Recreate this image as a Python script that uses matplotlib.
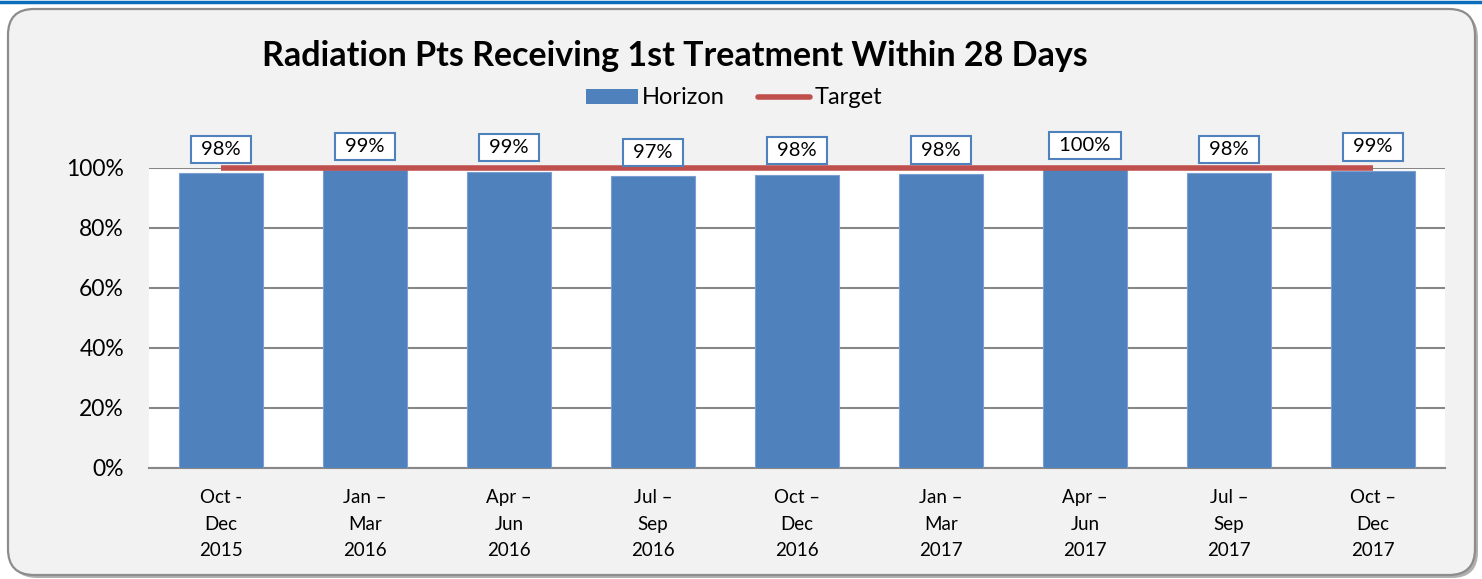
import numpy as np
import matplotlib
matplotlib.use("Agg")
import matplotlib.pyplot as plt
from matplotlib.patches import FancyBboxPatch, Patch
from matplotlib.lines import Line2D
from matplotlib.transforms import IdentityTransform

# data
periods = ["Oct -\nDec\n2015", "Jan \u2013\nMar\n2016", "Apr \u2013\nJun\n2016",
           "Jul \u2013\nSep\n2016", "Oct \u2013\nDec\n2016", "Jan \u2013\nMar\n2017",
           "Apr \u2013\nJun\n2017", "Jul \u2013\nSep\n2017", "Oct \u2013\nDec\n2017"]
horizon = [0.983, 0.993, 0.987, 0.973, 0.977, 0.980, 0.996, 0.983, 0.990]
bar_labels = ["98%", "99%", "99%", "97%", "98%", "98%", "100%", "98%", "99%"]
target = [1.0] * 9
yticks = [0, 0.2, 0.4, 0.6, 0.8, 1.0]
ytick_labels = ["0%", "20%", "40%", "60%", "80%", "100%"]

bar_color = "#4f81bd"
target_color = "#c0504d"
grid_color = "#878787"
bg = "#f2f2f2"

plt.rcParams['font.family'] = ['Lato', 'DejaVu Sans']

W, H = 1482, 579
fig = plt.figure(figsize=(W / 100, H / 100), dpi=100)
fig.patch.set_facecolor("white")

# outer rounded frame (pixel coordinates), with a light shadow
shadow = FancyBboxPatch((11, 1), 1467, 566, boxstyle="round,pad=0,rounding_size=26",
                        transform=IdentityTransform(), fc="#b0b0b0", ec="none", zorder=0)
frame = FancyBboxPatch((8, 4), 1467, 566, boxstyle="round,pad=0,rounding_size=26",
                       transform=IdentityTransform(), fc=bg, ec="#8c8c8c", lw=1.6, zorder=1)
fig.patches.extend([shadow, frame])
fig.add_artist(Line2D([0, 1], [1 - 1.5 / H, 1 - 1.5 / H], transform=fig.transFigure,
                      color="#0a6ebd", lw=2.5))

ax = fig.add_axes([149 / W, 111 / H, 1296 / W, 300 / H])
ax.set_zorder(2)
x = np.arange(len(periods))
ax.bar(x, horizon, width=0.58, color=bar_color, edgecolor="#7a9fd0", linewidth=0.8, zorder=3)
ax.plot(x, target, color=target_color, lw=4, solid_capstyle="butt", zorder=4, clip_on=False)

for xi, v, lab in zip(x, horizon, bar_labels):
    ax.annotate(" " + lab + " ", (xi, v), xytext=(0, 24), textcoords="offset pixels",
                ha="center", va="center", fontsize=14.5, color="black", zorder=5,
                annotation_clip=False,
                bbox=dict(boxstyle="square,pad=0.25", fc="white", ec=bar_color, lw=1.5))

ax.set_xlim(-0.5, len(periods) - 0.5)
ax.set_ylim(0, 1.0)
ax.set_yticks(yticks)
ax.set_yticklabels(ytick_labels, fontsize=16.5)
ax.set_xticks(x)
ax.set_xticklabels(periods, fontsize=13.5, linespacing=1.7)
ax.tick_params(axis="both", length=0)
ax.tick_params(axis="y", pad=18)
ax.tick_params(axis="x", pad=15)
ax.yaxis.grid(True, color=grid_color, lw=1.5, zorder=0)
ax.set_axisbelow(True)
for s in ["top", "right", "left"]:
    ax.spines[s].set_visible(False)
ax.spines["bottom"].set_color(grid_color)
ax.spines["bottom"].set_linewidth(1.5)
ax.set_facecolor("white")

fig.text(675 / W, 1 - 56 / H, "Radiation Pts Receiving 1st Treatment Within 28 Days",
         ha="center", va="center", fontsize=24.5, fontweight="bold")

handles = [Patch(fc=bar_color, ec="none"),
           Line2D([0], [0], color=target_color, lw=4, solid_capstyle="round")]
fig.legend(handles, ["Horizon", "Target"], loc="center", bbox_to_anchor=(734 / W, 1 - 98 / H),
           ncol=2, frameon=False, fontsize=17, handlelength=2.2, handleheight=0.6,
           handletextpad=0.2, columnspacing=1.4)

fig.savefig("out.png", dpi=100, facecolor="white")
